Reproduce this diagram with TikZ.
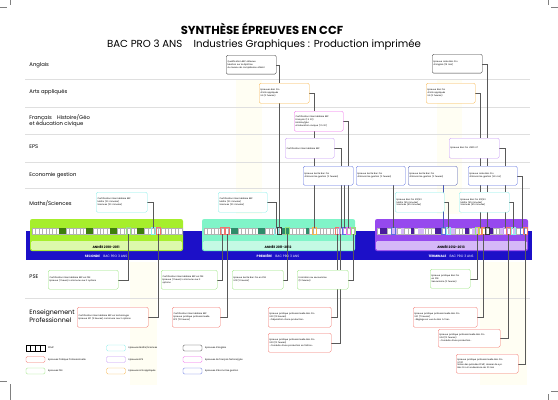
\documentclass[tikz,border=0pt]{standalone}
\usepackage{fontspec}
\setmainfont{Poppins}
\usetikzlibrary{calc,
positioning}

\definecolor{cangl}{HTML}{3A3A3A}
\definecolor{carts}{HTML}{F7B54A}
\definecolor{cfran}{HTML}{F06BEA}
\definecolor{ceps}{HTML}{C496F5}
\definecolor{ceco}{HTML}{5C6FE0}
\definecolor{cmaths}{HTML}{86EEEA}
\definecolor{cpse}{HTML}{96E57A}
\definecolor{cpro}{HTML}{F2746C}
\definecolor{bande}{HTML}{1C10C8}
\definecolor{vert}{HTML}{A6EE2C}
\definecolor{vertclair}{HTML}{DDF9AC}
\definecolor{vertfonce}{HTML}{3E7E0C}
\definecolor{menthe}{HTML}{80F4C8}
\definecolor{mentheclair}{HTML}{C4FAE4}
\definecolor{menthefonce}{HTML}{2E8C6A}
\definecolor{violet}{HTML}{9649EE}
\definecolor{violetclair}{HTML}{D5B8F8}
\definecolor{violetfonce}{HTML}{4A1C9C}
\definecolor{creme}{HTML}{FFFEF3}

\pgfdeclarelayer{fond}
\pgfdeclarelayer{liens}
\pgfsetlayers{fond,liens,main}

\begin{document}
\begin{tikzpicture} [x=0.05cm,
    y=-0.05cm,
    epreuve/.style={rectangle, rounded corners=2pt, draw=#1,
        line width=0.5pt, fill=white, anchor=north west, align=left,
        inner xsep=2pt, inner ysep=1pt,
        font=\fontsize{3.1}{4.1}\selectfont},
    lien/.style={draw=gray!70!black, line width=0.35pt},
    matiere/.style={anchor=west, align=left,
        font=\fontsize{7.5}{9}\selectfont},
    separation/.style={draw=gray!25, line width=0.7pt},
    pastille/.style={rectangle, rounded corners=2pt, draw=#1,
        line width=0.6pt, fill=white, inner sep=0pt,
        minimum width=0.95cm, minimum height=0.3cm},
    legende/.style={font=\fontsize{3.2}{4}\selectfont, inner sep=0pt},
    annee/.style={font=\bfseries\fontsize{4.6}{5}\selectfont},
    niveau/.style={white, font=\fontsize{4.6}{5}\selectfont}
  ]

  \useasboundingbox (0,0) rectangle (558,400);

  %%%%%%%%%%%%%%%%%%%%%%%%%%%%%% titres

  \node [font=\bfseries\fontsize{16.5}{18}\selectfont] (titre) at (262,29)
  {SYNTHÈSE ÉPREUVES EN CCF};
  \node [font=\fontsize{14.5}{16}\selectfont] (soustitre) at (264,44.5)
  {BAC PRO 3 ANS\hspace{1.1em}Industries Graphiques : Production imprimée};

  %%%%%%%%%%%%%%%%%%%%%%%%%%%%%% matieres

  \node [matiere] (anglais) at (27,65) {Anglais};
  \node [matiere] (arts) at (27,92) {Arts appliqués};
  \node [matiere] (francais) at (27,121) {Français\quad Histoire/Géo\\et éducation civique};
  \node [matiere] (eps) at (27,147) {EPS};
  \node [matiere] (eco) at (27,175) {Economie gestion};
  \node [matiere] (maths) at (27,203) {Maths/Sciences};
  \node [matiere] (pse) at (27,277) {PSE};
  \node [matiere,
    font=\fontsize{9}{11}\selectfont
  ] (enspro) at (27,316) {Enseignement\\Professionnel};

  %%%%%%%%%%%%%%%%%%%%%%%%%%%%%% fond : colonnes, lignes, annees

  \begin{pgfonlayer}{fond}
    \fill [creme] (236,80) rectangle (262,214);
    \fill [creme] (437,80) rectangle (462,214);
    \fill [creme] (130,262) rectangle (157,385);
    \fill [creme] (480,262) rectangle (527,385);
    \foreach \y in {79,107,134,162,188,298}
      \draw [separation] (25,\y) -- (530,\y);

    \fill [bande] (26,231) rectangle (532,260);

    \fill [vert, rounded corners=3pt] (30,219) rectangle (183,251);
    \fill [vertclair, rounded corners=2pt] (31,241) rectangle (182,250);
    \fill [menthe, rounded corners=3pt] (202,219) rectangle (355,251);
    \fill [mentheclair, rounded corners=2pt] (203,241) rectangle (354,250);
    \fill [violet, rounded corners=3pt] (375,219) rectangle (528,251);
    \fill [violetclair, rounded corners=2pt] (376,241) rectangle (527,250);

    % semaines de chaque annee
    \foreach \xa/\fc/\liste in {30/vertfonce/{8,9,16,17,23,24,31,32},
        202/menthefonce/{8,9,16,17,23,24,30},
        375/violetfonce/{1,2,10,17,18,26,33}} {
      \foreach \i in {0,...,43}
        \filldraw [fill=white, draw=gray!60, line width=0.2pt]
          ({\xa+2+3.4*\i},228) rectangle ++(3.4,6);
      \foreach \i in \liste
        \fill [\fc] ({\xa+2+3.4*\i},228) rectangle ++(3.4,6);
    }
    \foreach \i in {4,5,7,12,13,21,22,28,29,36,40}
      \fill [violetclair] ({377.2+3.4*\i},228.3) rectangle ++(3,5.4);

    % semaines d'epreuve
    \foreach \xc/\cc in {128/cpse,153/cmaths,158/cpro,222/cpro,227/cpro,
        276/cmaths,279/cangl,287/cpse,314/carts,337/cpro,341/ceps,
        344/ceco,348/cfran,353/cpse,393/ceco,443/ceco,448/cmaths,
        477/cpse,480/carts,483/cpro,487/cangl,505/ceps,508/cpro,
        513/cmaths,522/ceco,525/cpro}
      \draw [\cc, line width=0.5pt] ({\xc-1.8},227.6) rectangle ({\xc+1.8},234.4);
  \end{pgfonlayer}

  \node [annee] (an1) at (106,246.5) {ANNÉE 2010-2011};
  \node [annee] (an2) at (278,246.5) {ANNÉE 2011-2012};
  \node [annee] (an3) at (451,246.5) {ANNÉE 2012-2013};
  \node [niveau] (niv1) at (106,256) {\textbf{SECONDE}\quad BAC PRO 3 ANS};
  \node [niveau] (niv2) at (278,256) {\textbf{PREMIÈRE}\quad BAC PRO 3 ANS};
  \node [niveau] (niv3) at (451,256) {\textbf{TERMINALE}\quad BAC PRO 3 ANS};

  %%%%%%%%%%%%%%%%%%%%%%%%%%%%%% epreuves au-dessus

  \node [epreuve=cangl,
    text width=2.36cm,
    minimum height=0.95cm
  ] (angQ) at (226,55) {Qualification BEP obtenue\\Mention sur le diplôme\\du niveau de compétence atteint};

  \node [epreuve=carts,
    text width=2.36cm,
    minimum height=1cm
  ] (arts1) at (259,83) {Epreuves Bac Pro\\d'arts appliqués\\U9 (2 heures)};

  \node [epreuve=cfran,
    text width=2.31cm,
    minimum height=1cm
  ] (fr1) at (294,111) {Certification intermédiaire BEP\\Français (1 h 30)\\Histoire/géo\\et éducation civique (1 h 30)};

  \node [epreuve=ceps,
    text width=2.31cm,
    minimum height=1cm
  ] (eps1) at (285,138) {Certification intermédiaire BEP};

  \node [epreuve=cangl,
    text width=2.36cm,
    minimum height=0.95cm
  ] (angT) at (432,54) {Epreuve orale Bac Pro\\d'anglais (15 min)};

  \node [epreuve=carts,
    text width=2.31cm,
    minimum height=1cm
  ] (artsT) at (426,83) {Epreuve Bac Pro\\d'arts appliqués\\U9 (2 heures)};

  \node [epreuve=ceps,
    text width=2.36cm,
    minimum height=1cm
  ] (epsT) at (449,138) {Epreuve Bac Pro d'EPS U7};

  \node [epreuve=ceco,
    text width=2.36cm,
    minimum height=0.95cm
  ] (ecoA) at (303,166) {Epreuve écrite Bac Pro\\d'économie gestion (2 heures)};

  \node [epreuve=ceco,
    text width=2.31cm,
    minimum height=0.95cm
  ] (ecoB) at (356,166) {Epreuve écrite Bac Pro\\d'économie gestion (2 heures)};

  \node [epreuve=ceco!80!black,
    text width=2.31cm,
    minimum height=0.95cm
  ] (ecoC) at (408,166) {Epreuve écrite Bac Pro\\d'économie gestion (2 heures)};

  \node [epreuve=ceco,
    text width=2.31cm,
    minimum height=0.95cm
  ] (ecoD) at (468,166) {Epreuve orale Bac Pro\\d'économie gestion (40 mn)};

  \node [epreuve=cmaths,
    text width=2.41cm,
    minimum height=1cm
  ] (maths1) at (96,192) {Certification intermédiaire BEP\\Maths (20 minutes)\\Sciences (20 minutes)};

  \node [epreuve=cmaths,
    text width=2.31cm,
    minimum height=1cm
  ] (maths2) at (218,192) {Certification intermédiaire BEP\\Maths (20 minutes)\\Sciences (20 minutes)};

  \node [epreuve=cmaths,
    text width=2.31cm,
    minimum height=1cm
  ] (mathsT1) at (395,192) {Epreuve Bac Pro E12/E3\\Maths (45 minutes)\\Sciences (45 minutes)};

  \node [epreuve=cmaths,
    text width=2.36cm,
    minimum height=1cm
  ] (mathsT2) at (459,192) {Epreuve Bac Pro E12/E3\\Maths (45 minutes)\\Sciences (45 minutes)};

  %%%%%%%%%%%%%%%%%%%%%%%%%%%%%% epreuves au-dessous

  \node [epreuve=cpse,
    text width=3.36cm,
    minimum height=0.95cm
  ] (pse1) at (48,270) {Certification intermédiaire BEP en PSE\\Epreuve (1 heure) commune aux 2 options};

  \node [epreuve=cpse,
    text width=2.66cm,
    minimum height=0.95cm
  ] (pse2) at (161,270) {Certification intermédiaire BEP en PSE\\Epreuve (1 heure) commune aux 2\\options};

  \node [epreuve=cpse,
    text width=2.41cm,
    minimum height=0.95cm
  ] (pse3) at (232,270) {Epreuve écrite Bac Pro en PSE\\U12 (2 heures)};

  \node [epreuve=cpse,
    text width=2.41cm,
    minimum height=0.95cm
  ] (secour) at (297,270) {Formation au secourisme\\(12 heures)};

  \node [epreuve=cpse,
    text width=1.86cm,
    minimum height=0.95cm
  ] (pseT) at (430,269) {Epreuve pratique Bac Pro\\en PSE\\Secourisme (2 heures)};

  \node [epreuve=cpro,
    text width=3.41cm,
    minimum height=1cm
  ] (ep1) at (77,307) {Certification intermédiaire BEP en technologie\\Epreuve EP1 (3 heures) commune aux 2 options};

  \node [epreuve=cpro,
    text width=2.26cm,
    minimum height=1cm
  ] (ep2) at (172,307) {Certification intermédiaire BEP\\Epreuve pratique professionnelle\\EP2 (12 heures)};

  \node [epreuve=cpro,
    text width=3.01cm,
    minimum height=1cm
  ] (ep3) at (268,307) {Epreuve pratique professionnelle Bac Pro\\U32 (12 heures)\\-Préparation d'une production-};

  \node [epreuve=cpro,
    text width=3.01cm,
    minimum height=0.95cm
  ] (ep4) at (268,333) {Epreuve pratique professionnelle Bac Pro\\U33 (12 heures)\\-Conduite d'une production en finition-};

  \node [epreuve=cpro,
    text width=3.06cm,
    minimum height=1cm
  ] (ep5) at (413,307) {Epreuve pratique professionnelle Bac Pro\\U31 (7 heures)\\-Réglage en vue du Bon à Tirer-};

  \node [epreuve=cpro,
    text width=2.96cm,
    minimum height=0.9cm
  ] (ep6) at (438,329) {Epreuve pratique professionnelle Bac Pro\\U34 (12 heures)\\-Conduite d'une production-};

  \node [epreuve=cpro,
    text width=2.96cm,
    minimum height=0.95cm
  ] (ep7) at (456,354) {Epreuve pratique professionnelle Bac Pro\\U11 P1\\Notes des périodes PFMP, dossier de syn.\\Bac Pro et soutenance de 20 min};

  %%%%%%%%%%%%%%%%%%%%%%%%%%%%%% liens vers les semaines

  \coordinate (f-angQ) at (279,228);
  \coordinate (f-arts1) at (314,228);
  \coordinate (f-fr1) at (348,228);
  \coordinate (f-eps1) at (341,228);
  \coordinate (f-ecoA) at (344,228);
  \coordinate (f-ecoB) at (393,228);
  \coordinate (f-ecoC) at (443,228);
  \coordinate (f-ecoD) at (522,228);
  \coordinate (f-angT) at (487,228);
  \coordinate (f-artsT) at (480,228);
  \coordinate (f-epsT) at (505,228);
  \coordinate (f-maths1) at (153,228);
  \coordinate (f-maths2) at (276,228);
  \coordinate (f-mathsT1) at (448,228);
  \coordinate (f-mathsT2) at (513,228);
  \coordinate (f-pse1) at (128,234);
  \coordinate (f-ep1) at (158,234);
  \coordinate (f-pse2) at (222,234);
  \coordinate (f-ep2) at (227,234);
  \coordinate (f-pse3) at (287,234);
  \coordinate (f-secour) at (353,234);
  \coordinate (f-ep3) at (337,234);
  \coordinate (f-ep4) at (340,234);
  \coordinate (f-pseT) at (477,234);
  \coordinate (f-ep5) at (483,234);
  \coordinate (f-ep6) at (508,234);
  \coordinate (f-ep7) at (525,234);

  \begin{pgfonlayer}{liens}
    \foreach \b in {angQ,arts1,fr1,eps1,ecoD,angT,artsT,epsT,
        maths1,maths2,mathsT1,mathsT2,pse1,ep1,pse2,ep2,pse3,
        secour,ep3,ep4,pseT,ep5,ep6,ep7}
      \draw [lien] (\b.east) -| (f-\b);
    \draw [lien] (ecoA.south -| f-ecoA) -- (f-ecoA);
    \draw [lien] (ecoB.south -| f-ecoB) -- (f-ecoB);
    \draw [lien, draw=ceco!80!black] (ecoC.south -| f-ecoC) -- (f-ecoC);
  \end{pgfonlayer}

  %%%%%%%%%%%%%%%%%%%%%%%%%%%%%% legende

  \node [pastille=black, sharp corners] (lg-pfmp) at (35.5,348) {};
  \foreach \k in {1,2,3}
    \draw [line width=0.5pt] ($(lg-pfmp.north west)!\k/4!(lg-pfmp.north east)$)
      -- ($(lg-pfmp.south west)!\k/4!(lg-pfmp.south east)$);
  \node [pastille=cpro] (lg-pro) at (35.5,359.5) {};
  \node [pastille=cpse] (lg-pse) at (35.5,371) {};
  \node [pastille=cmaths] (lg-maths) at (116,348) {};
  \node [pastille=ceps] (lg-eps) at (116,359.5) {};
  \node [pastille=carts] (lg-arts) at (116,371) {};
  \node [pastille=cangl] (lg-angl) at (192.5,348) {};
  \node [pastille=cfran] (lg-fran) at (192.5,359.5) {};
  \node [pastille=ceco] (lg-eco) at (192.5,371) {};

  \node [legende, right=4pt of lg-pfmp] (t-pfmp) {PFMP};
  \node [legende, right=4pt of lg-pro] (t-pro) {Epreuves Pratique Professionnelle};
  \node [legende, right=4pt of lg-pse] (t-pse) {Epreuves PSE};
  \node [legende, right=4pt of lg-maths] (t-maths) {Epreuves Maths/Sciences};
  \node [legende, right=4pt of lg-eps] (t-eps) {Epreuves EPS};
  \node [legende, right=4pt of lg-arts] (t-arts) {Epreuves Arts appliqués};
  \node [legende, right=4pt of lg-angl] (t-angl) {Epreuves d'anglais};
  \node [legende, right=4pt of lg-fran] (t-fran) {Epreuves de français histoire/géo};
  \node [legende, right=4pt of lg-eco] (t-eco) {Epreuves d'économie gestion};

  %%%%%%%%%%%%%%%%%%%%%%%%%%%%%% reperes de coupe

  \draw [gray, line width=0.3pt] (0,7) -- (7,7) (10,0) -- (10,5);
  \draw [gray, line width=0.3pt] (551,7) -- (558,7) (548,0) -- (548,5);
  \draw [gray, line width=0.3pt] (0,381) -- (7,381) (10,384) -- (10,400);
  \draw [gray, line width=0.3pt] (551,391) -- (558,391) (548,394) -- (548,400);

\end{tikzpicture}
\end{document}
